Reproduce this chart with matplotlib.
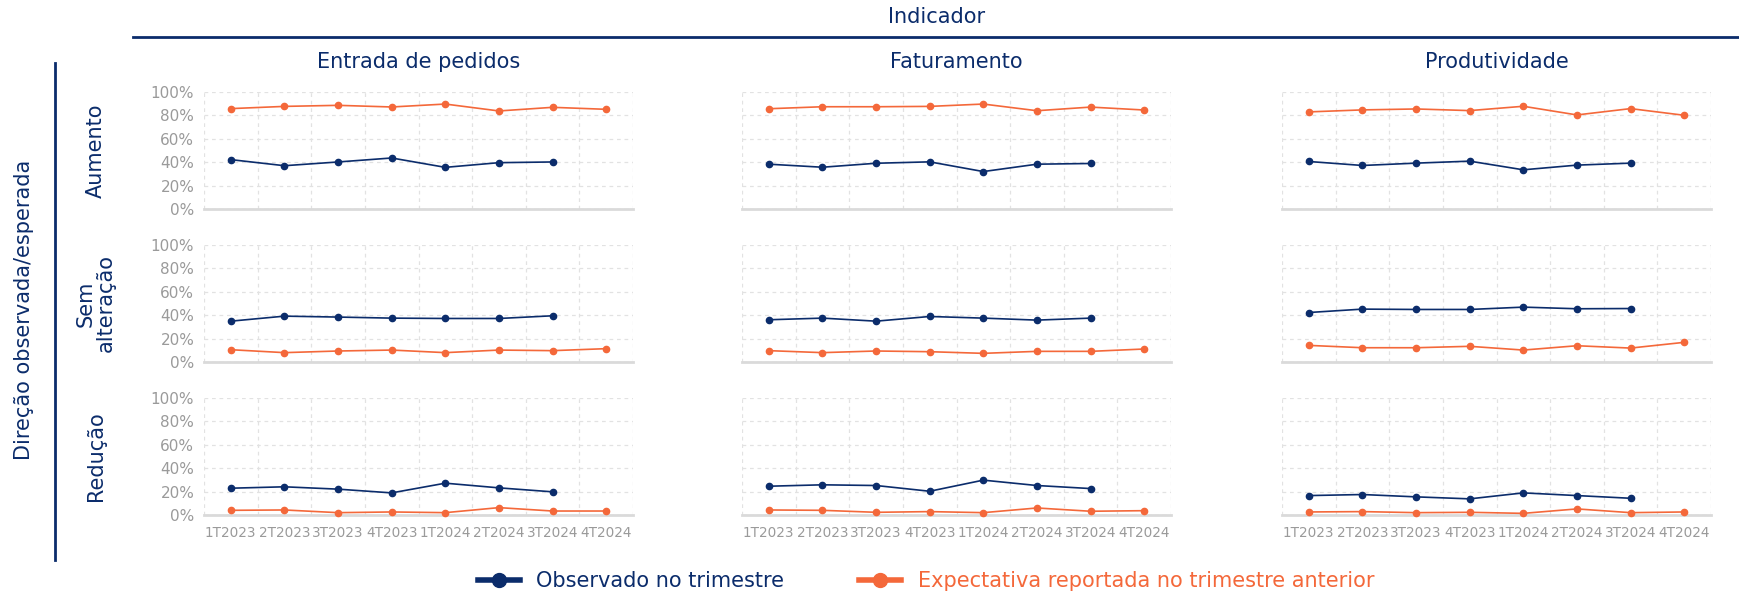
import matplotlib
matplotlib.use("Agg")
import matplotlib.pyplot as plt
from matplotlib.lines import Line2D

# ---------------- data ----------------
quarters = ["1T2023", "2T2023", "3T2023", "4T2023", "1T2024", "2T2024", "3T2024", "4T2024"]
indicators = ["Entrada de pedidos", "Faturamento", "Produtividade"]
directions = ["Aumento", "Sem\nalteração", "Redução"]
yticks_pct = [0, 20, 40, 60, 80, 100]

# Observado no trimestre (até 3T2024)
obs_entrada_aum = [42.2, 37.0, 40.2, 43.6, 35.6, 39.6, 40.2]
obs_entrada_sem = [34.9, 39.2, 38.4, 37.5, 37.2, 37.2, 39.5]
obs_entrada_red = [22.9, 24.1, 22.1, 18.9, 27.2, 23.2, 19.8]
obs_fat_aum = [38.3, 35.7, 39.1, 40.3, 32.0, 38.3, 38.9]
obs_fat_sem = [36.1, 37.5, 34.9, 38.9, 37.5, 35.8, 37.5]
obs_fat_red = [24.6, 25.8, 25.2, 20.3, 29.8, 25.2, 22.6]
obs_prod_aum = [40.6, 37.2, 39.2, 40.9, 33.5, 37.5, 39.2]
obs_prod_sem = [42.3, 45.2, 44.9, 44.9, 46.9, 45.5, 45.7]
obs_prod_red = [16.6, 17.5, 15.5, 13.8, 18.9, 16.6, 14.3]

# Expectativa reportada no trimestre anterior
exp_entrada_aum = [85.8, 87.7, 88.6, 87.2, 89.7, 83.8, 86.9, 85.2]
exp_entrada_sem = [10.5, 8.0, 9.4, 10.2, 8.0, 10.2, 9.7, 11.4]
exp_entrada_red = [4.0, 4.3, 2.0, 2.6, 2.0, 6.3, 3.4, 3.4]
exp_fat_aum = [85.7, 87.4, 87.4, 87.7, 89.7, 84.0, 87.1, 84.6]
exp_fat_sem = [9.7, 8.0, 9.4, 8.8, 7.4, 9.1, 9.1, 11.1]
exp_fat_red = [4.3, 4.0, 2.3, 2.9, 2.0, 6.0, 3.2, 3.7]
exp_prod_aum = [83.0, 84.7, 85.5, 84.1, 87.8, 80.4, 85.8, 80.1]
exp_prod_sem = [14.2, 12.2, 12.2, 13.4, 10.2, 13.9, 11.9, 16.8]
exp_prod_red = [2.6, 2.9, 2.0, 2.3, 1.4, 5.2, 2.0, 2.6]

observed = [
    [obs_entrada_aum, obs_fat_aum, obs_prod_aum],
    [obs_entrada_sem, obs_fat_sem, obs_prod_sem],
    [obs_entrada_red, obs_fat_red, obs_prod_red],
]
expected = [
    [exp_entrada_aum, exp_fat_aum, exp_prod_aum],
    [exp_entrada_sem, exp_fat_sem, exp_prod_sem],
    [exp_entrada_red, exp_fat_red, exp_prod_red],
]

legend_labels = ["Observado no trimestre", "Expectativa reportada no trimestre anterior"]

# ---------------- style ----------------
NAVY = "#0B2C6B"
ORANGE = "#F4683A"
GREY_TXT = "#9A9A9A"
GRID = "#E2E2E2"
BASE = "#DADADA"
BIG = 15

W, H = 1739, 596
fig = plt.figure(figsize=(W / 100, H / 100), dpi=100)

col_left = [204, 742, 1282]
col_w = 429
row_top = [92, 245, 398]
row_h = 117

for r in range(3):
    for c in range(3):
        ax = fig.add_axes([col_left[c] / W, 1 - (row_top[r] + row_h) / H, col_w / W, row_h / H])
        e = expected[r][c]
        o = observed[r][c]
        ax.plot(range(len(e)), e, color=ORANGE, lw=1.2, marker="o", ms=4.5, clip_on=False, zorder=3)
        ax.plot(range(len(o)), o, color=NAVY, lw=1.2, marker="o", ms=4.5, clip_on=False, zorder=4)
        ax.set_xlim(-0.5, len(quarters) - 0.5)
        ax.set_ylim(0, 100)
        ax.set_yticks(yticks_pct)
        ax.set_xticks(range(len(quarters)))
        ax.set_xticks([i - 0.5 for i in range(len(quarters) + 1)], minor=True)
        ax.grid(axis="y", which="major", color=GRID, ls=(0, (3, 3)), lw=0.9)
        ax.grid(axis="x", which="minor", color=GRID, ls=(0, (3, 3)), lw=0.9)
        ax.grid(axis="x", which="major", visible=False)
        for s in ["top", "left", "right"]:
            ax.spines[s].set_visible(False)
        ax.spines["bottom"].set_color(BASE)
        ax.spines["bottom"].set_linewidth(2)
        ax.tick_params(which="both", length=0, colors=GREY_TXT)
        ax.tick_params(axis="y", pad=7, labelsize=11)
        ax.tick_params(axis="x", pad=8, labelsize=9.8)
        if c == 0:
            ax.set_yticklabels([f"{v}%" for v in yticks_pct])
        else:
            ax.set_yticklabels([])
        if r == 2:
            ax.set_xticklabels(quarters)
        else:
            ax.set_xticklabels([])

# column titles
for c, name in enumerate(indicators):
    fig.text((col_left[c] + col_w / 2) / W, 1 - 62 / H, name, ha="center", va="center",
             color=NAVY, fontsize=BIG)

# top header
fig.text(937 / W, 1 - 17 / H, "Indicador", ha="center", va="center", color=NAVY, fontsize=BIG)
fig.add_artist(Line2D([133 / W, 1.0], [1 - 36.6 / H, 1 - 36.6 / H], color=NAVY, lw=2))

# left header
fig.add_artist(Line2D([55 / W, 55 / W], [1 - 63 / H, 1 - 560 / H], color=NAVY, lw=2))
fig.text(24 / W, 1 - 310 / H, "Direção observada/esperada", rotation=90, ha="center", va="center",
         color=NAVY, fontsize=BIG)
for r, name in enumerate(directions):
    fig.text(96 / W, 1 - (row_top[r] + row_h / 2) / H, name, rotation=90, ha="center", va="center",
             multialignment="center", color=NAVY, fontsize=BIG, linespacing=1.0)

# legend
handles = [
    Line2D([], [], color=NAVY, lw=4, marker="o", ms=10),
    Line2D([], [], color=ORANGE, lw=4, marker="o", ms=10),
]
leg = fig.legend(handles, legend_labels, loc="center", bbox_to_anchor=(926 / W, 1 - 581 / H),
                 ncol=2, frameon=False, fontsize=BIG, handlelength=2.0, columnspacing=3.6,
                 handletextpad=0.8)
for t, col in zip(leg.get_texts(), [NAVY, ORANGE]):
    t.set_color(col)

fig.savefig("out.png", dpi=100)
